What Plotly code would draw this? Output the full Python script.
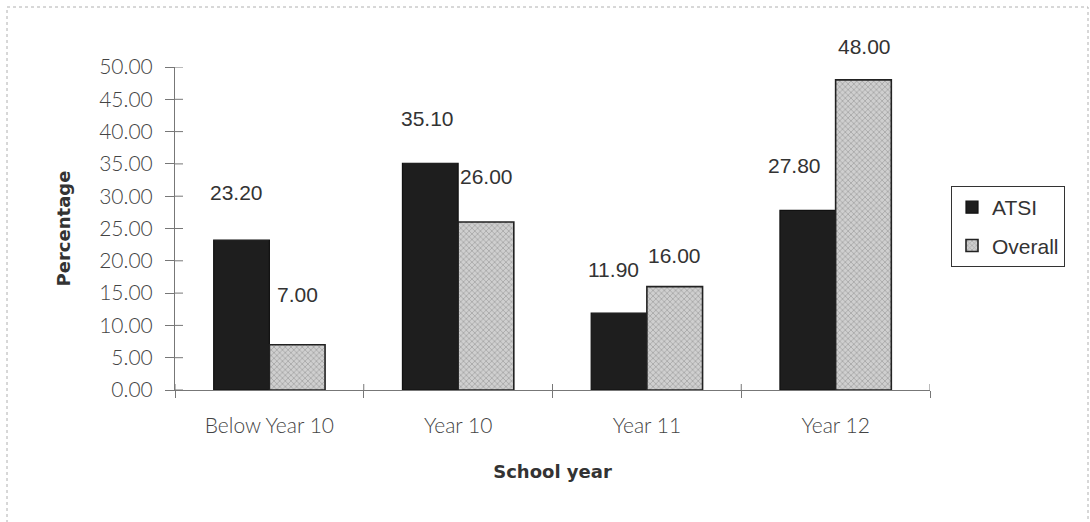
import plotly.graph_objects as go

# School year attainment, percentages
categories = ["Below Year 10", "Year 10", "Year 11", "Year 12"]
atsi = [23.20, 35.10, 11.90, 27.80]
overall = [7.00, 26.00, 16.00, 48.00]
y_ticks = [0, 5, 10, 15, 20, 25, 30, 35, 40, 45, 50]

# Value label placement (pixel offsets relative to each bar top / bar centre)
atsi_label_dy = [48, 45, 44, 45]
atsi_label_dx = [-33, -31, -33, -41]
overall_label_dy = [50, 46, 31, 33]
overall_label_dx = [28, 28, 28, 29]

LABEL_FONT = dict(family="Liberation Sans, Arial, sans-serif", size=21, color="#333")
TICK_FONT = dict(family="Lato, Open Sans, sans-serif", size=21, color="#444", weight=300)
TITLE_FONT = dict(family="DejaVu Sans, sans-serif", size=18, color="#333", weight="bold")
AXIS_GREY = "#777"

fig = go.Figure()

fig.add_trace(go.Bar(
    name="ATSI", x=categories, y=atsi,
    marker=dict(color="#1e1e1e", line=dict(color="#111", width=1.2)),
    legendgroup="a",
))
fig.add_trace(go.Bar(
    name="Overall", x=categories, y=overall,
    marker=dict(
        color="#c4c4c4",
        line=dict(color="#222", width=1.6),
        pattern=dict(shape="x", fgcolor="#777", bgcolor="#cfcfcf", size=4, solidity=0.35),
    ),
    legendgroup="b",
))

annotations = []
for i, cat in enumerate(categories):
    annotations.append(dict(x=cat, y=atsi[i], text=f"{atsi[i]:.2f}", showarrow=False,
                            xshift=atsi_label_dx[i], yshift=atsi_label_dy[i],
                            yanchor="middle", font=LABEL_FONT))
    annotations.append(dict(x=cat, y=overall[i], text=f"{overall[i]:.2f}", showarrow=False,
                            xshift=overall_label_dx[i], yshift=overall_label_dy[i],
                            yanchor="middle", font=LABEL_FONT))

n = len(categories)
boundaries = [i - 0.5 for i in range(n + 1)]

L, R, T, B = 175, 160, 67, 132
W, H = 1090, 522
pw, ph = W - L - R, H - T - B

# Inner halves of the crossing tick marks (outer halves come from the axes)
shapes = []
for v in y_ticks:
    shapes.append(dict(type="line", xref="x domain", yref="y", x0=0, x1=8 / pw, y0=v, y1=v,
                       line=dict(color=AXIS_GREY, width=1)))
for b in boundaries:
    shapes.append(dict(type="line", xref="x", yref="y domain", x0=b, x1=b, y0=0, y1=6 / ph,
                       line=dict(color=AXIS_GREY, width=1)))

# Light dotted frame round the whole chart
shapes.append(dict(
    type="rect", xref="paper", yref="paper",
    x0=(7 - L) / pw, x1=(1088 - L) / pw,
    y0=(H - B - 530) / ph, y1=(H - B - 7) / ph,
    line=dict(color="#b0b0b0", width=1, dash="dot"), layer="below",
))

fig.update_layout(
    width=W, height=H,
    margin=dict(l=L, r=R, t=T, b=B),
    paper_bgcolor="white", plot_bgcolor="white",
    barmode="group", bargap=0.41, bargroupgap=0,
    showlegend=True,
    legend=dict(
        x=(951 - L) / pw, y=(H - B - 186) / ph, xanchor="left", yanchor="top",
        bordercolor="#333", borderwidth=1, bgcolor="white",
        font=dict(family="Liberation Sans, Arial, sans-serif", size=21, color="#333"),
        traceorder="grouped", tracegroupgap=8, itemwidth=30,
    ),
    xaxis=dict(
        type="category", tickson="boundaries", ticks="outside", ticklen=7,
        tickcolor=AXIS_GREY, showline=True, linecolor=AXIS_GREY, linewidth=1,
        showgrid=False, tickfont=TICK_FONT, ticklabelstandoff=17,
        title=dict(text="School year", font=TITLE_FONT, standoff=29),
        range=[-0.5, n - 0.5],
    ),
    yaxis=dict(
        range=[0, 50], tickvals=y_ticks, tickformat=".2f", ticks="outside", ticklen=9,
        tickcolor=AXIS_GREY, showline=True, linecolor=AXIS_GREY, linewidth=1,
        showgrid=False, zeroline=False, tickfont=TICK_FONT, ticklabelstandoff=8,
        title=dict(text="Percentage", font=TITLE_FONT, standoff=23),
    ),
    annotations=annotations,
    shapes=shapes,
)

fig.write_html("out.html")
